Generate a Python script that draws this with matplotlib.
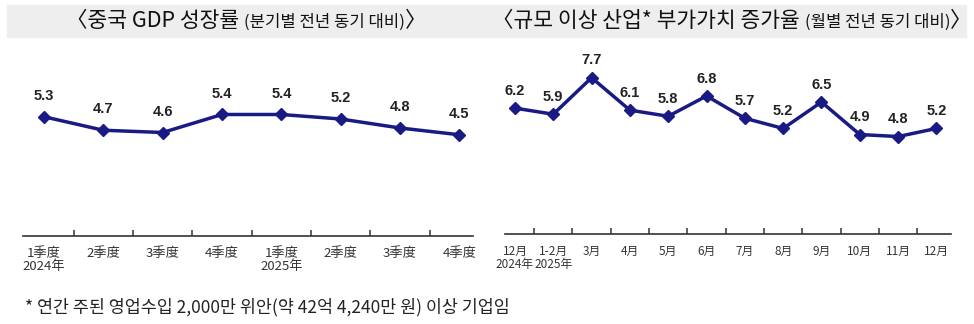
import matplotlib
matplotlib.use('Agg')
import matplotlib.pyplot as plt

# left chart: quarterly GDP growth
gdp_labels = ['1季度\n2024年', '2季度', '3季度', '4季度', '1季度\n2025年', '2季度', '3季度', '4季度']
gdp_values = [5.3, 4.7, 4.6, 5.4, 5.4, 5.2, 4.8, 4.5]

# right chart: monthly industrial value added
ind_labels = ['12月\n2024年', '1-2月\n2025年', '3月', '4月', '5月', '6月', '7月', '8月',
              '9月', '10月', '11月', '12月']
ind_values = [6.2, 5.9, 7.7, 6.1, 5.8, 6.8, 5.7, 5.2, 6.5, 4.9, 4.8, 5.2]

title_l = ['〈중국 GDP 성장률 ', '(분기별 전년 동기 대비)', '〉']
title_r = ['〈규모 이상 산업* 부가가치 증가율 ', '(월별 전년 동기 대비)', '〉']
note = '* 연간 주된 영업수입 2,000만 위안(약 42억 4,240만 원) 이상 기업임'

W, H = 974, 324
NAVY = '#1a1a84'
KR = ['Noto Sans CJK KR', 'DejaVu Sans']
CN = ['Noto Sans CJK SC', 'DejaVu Sans']
NUM = ['Liberation Sans Narrow', 'Liberation Sans', 'DejaVu Sans']

fig = plt.figure(figsize=(W / 100, H / 100), dpi=100)


def px_axes(x0, x1, ytop, ybot):
    return fig.add_axes([x0 / W, (H - ybot) / H, (x1 - x0) / W, (ybot - ytop) / H])


def draw_line(ax, labels, values, xlim, ymax, off, fs):
    xs = list(range(len(values)))
    ax.plot(xs, values, color=NAVY, lw=2.5, marker='D', ms=6, zorder=3)
    for x, v in zip(xs, values):
        ax.annotate(f'{v:.1f}', (x, v), xytext=(0, off), textcoords='offset points',
                    ha='center', va='center', fontsize=10.5, fontweight='bold',
                    family=NUM, color='#222222')
    ax.set_xlim(*xlim)
    ax.set_ylim(0, ymax)
    for s in ['left', 'right', 'top']:
        ax.spines[s].set_visible(False)
    ax.spines['bottom'].set_color('#333333')
    ax.spines['bottom'].set_linewidth(1.2)
    ax.set_yticks([])
    ax.set_xticks(xs)
    ax.set_xticklabels(labels, family=CN, fontsize=fs, color='#333333', linespacing=0.95)
    ax.tick_params(axis='x', which='major', length=0, pad=8)
    ax.set_xticks([x + 0.5 for x in xs[:-1]], minor=True)
    ax.tick_params(axis='x', which='minor', direction='in', length=4, width=1.1,
                   color='#333333')


ax1 = px_axes(23, 473, 40, 236)
draw_line(ax1, gdp_labels, gdp_values, (-0.354, 7.23), 196 / 22.5, 15, 9.5)

ax2 = px_axes(505, 951, 40, 234)
draw_line(ax2, ind_labels, ind_values, (-0.26, 11.38), 194 / 20.3, 12.5, 8.5)

# gray title band
fig.patches.append(plt.Rectangle((7 / W, (H - 37) / H), (966 - 7) / W, 32 / H,
                                 transform=fig.transFigure, color='#eeeeee', zorder=0))


def chained_title(parts, x0):
    sizes = [15.5, 12, 15.5]
    x = x0 / W
    y = (H - 27) / H
    r = fig.canvas.get_renderer()
    for p, s in zip(parts, sizes):
        t = fig.text(x, y, p, fontsize=s, family=KR, va='baseline', ha='left',
                     color='#111111', fontweight='medium')
        bb = t.get_window_extent(renderer=r)
        x = bb.x1 / W


fig.canvas.draw()
chained_title(title_l, 66)
chained_title(title_r, 492)

fig.text(25 / W, (H - 307) / H, note, fontsize=12.5, family=KR, color='#222222',
         va='center', ha='left')

fig.savefig('out.png', dpi=100)
